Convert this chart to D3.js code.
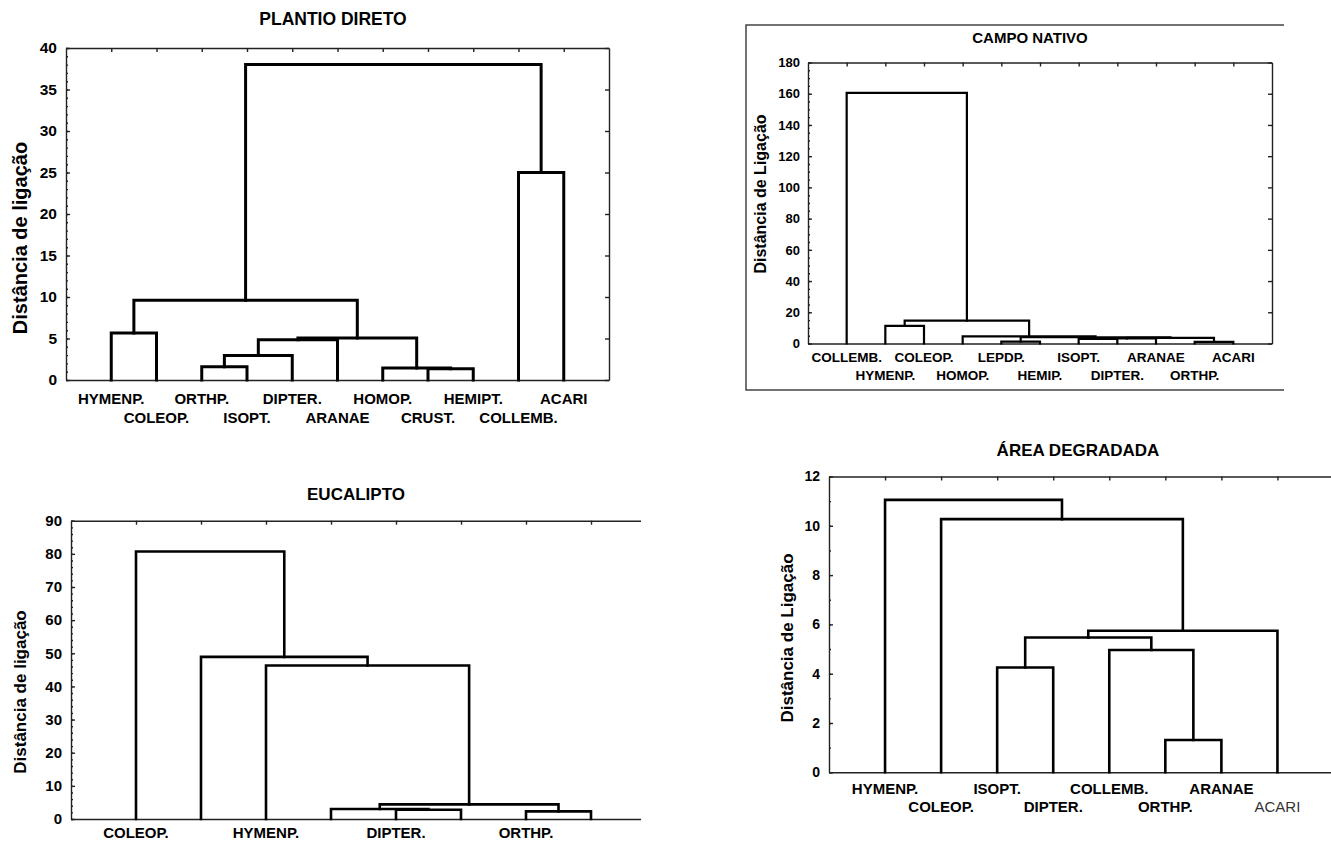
<!DOCTYPE html>
<html>
<head>
<meta charset="utf-8">
<script src="https://cdn.jsdelivr.net/npm/d3@7"></script>
<style>
body { margin: 0; background: #fff; }
text { font-family: "Liberation Sans", Arial, sans-serif; font-weight: bold; fill: #000; }
</style>
</head>
<body>
<div id="chart"></div>
<script>
// Each tree: leaf labels in drawing order, and merges [a, b, distance].
// An index below the leaf count is a leaf, leafCount + k is merge k.

// PLANTIO DIRETO
var plantioLeaves = ["HYMENP.", "COLEOP.", "ORTHP.", "ISOPT.", "DIPTER.", "ARANAE",
                     "HOMOP.", "CRUST.", "HEMIPT.", "COLLEMB.", "ACARI"];
var plantioMerges = [[2, 3, 1.6], [7, 8, 1.35], [6, 12, 1.45], [11, 4, 2.95], [14, 5, 4.85],
                     [15, 13, 5.05], [0, 1, 5.65], [17, 16, 9.6], [9, 10, 25], [18, 19, 38]];
var plantioTicks = [0, 5, 10, 15, 20, 25, 30, 35, 40];

// CAMPO NATIVO
var campoLeaves = ["COLLEMB.", "HYMENP.", "COLEOP.", "HOMOP.", "LEPDP.", "HEMIP.",
                   "ISOPT.", "DIPTER.", "ARANAE", "ORTHP.", "ACARI"];
var campoMerges = [[4, 5, 1.2], [9, 10, 1.0], [6, 7, 3.0], [13, 8, 3.2], [14, 12, 3.6],
                   [11, 15, 4.0], [3, 16, 4.6], [1, 2, 11.3], [18, 17, 14.7], [0, 19, 160.5]];
var campoTicks = [0, 20, 40, 60, 80, 100, 120, 140, 160, 180];

// EUCALIPTO (only every other leaf is labelled in the original)
var eucaliptoLeaves = ["COLEOP.", "", "HYMENP.", "", "DIPTER.", "", "ORTHP.", ""];
var eucaliptoMerges = [[4, 5, 2.8], [3, 8, 3.0], [6, 7, 2.3], [9, 10, 4.4],
                       [2, 11, 46.3], [1, 12, 48.9], [0, 13, 80.7]];
var eucaliptoTicks = [0, 10, 20, 30, 40, 50, 60, 70, 80, 90];

// ÁREA DEGRADADA
var areaLeaves = ["HYMENP.", "COLEOP.", "ISOPT.", "DIPTER.", "COLLEMB.", "ORTHP.", "ARANAE", "ACARI"];
var areaMerges = [[5, 6, 1.31], [2, 3, 4.25], [4, 8, 4.96], [9, 10, 5.47],
                  [11, 7, 5.74], [1, 12, 10.27], [0, 13, 11.05]];
var areaTicks = [0, 2, 4, 6, 8, 10, 12];

var svg = d3.select("#chart").append("svg")
    .attr("width", 1331)
    .attr("height", 844);

// Campo nativo sits in an open frame (cut on the right).
svg.append("path")
    .attr("d", "M1284,25 H746 V390 H1284")
    .attr("fill", "none")
    .attr("stroke", "#444")
    .attr("stroke-width", 1.5);

function styleAxis(g) {
    g.attr("color", "#222");
    g.selectAll("path, line").attr("stroke-width", 1.4);
}

function dendrogram(c, id) {
    var n = c.leaves.length;
    var g = svg.append("g");
    if (c.clip) {
        svg.append("clipPath").attr("id", id)
          .append("rect").attr("x", 0).attr("y", 0).attr("width", c.clip).attr("height", 844);
        g.attr("clip-path", "url(#" + id + ")");
    }
    var x = d3.scaleLinear().domain([-1, n]).range([c.left, c.right]);
    var y = d3.scaleLinear().domain([0, c.max]).range([c.bottom, c.top]);

    // minor ticks on the left axis
    g.append("g")
        .attr("transform", "translate(" + c.left + ",0)")
        .call(d3.axisLeft(y).tickValues(d3.range(0, c.max + 1e-9, c.minor))
            .tickSize(-2).tickFormat(""))
        .call(styleAxis)
        .select(".domain").remove();

    var left = g.append("g")
        .attr("transform", "translate(" + c.left + ",0)")
        .call(d3.axisLeft(y).tickValues(c.ticks).tickSizeInner(-4).tickSizeOuter(0).tickPadding(c.pad))
        .call(styleAxis);
    left.selectAll("text").style("font-size", c.tickFont + "px");

    if (!c.clip) {
        g.append("g")
            .attr("transform", "translate(" + c.right + ",0)")
            .call(d3.axisRight(y).tickValues(c.ticks).tickSizeInner(-4).tickSizeOuter(0).tickFormat(""))
            .call(styleAxis);
    }

    g.append("g")
        .attr("transform", "translate(0," + c.top + ")")
        .call(d3.axisTop(x).tickValues(d3.range(n)).tickSizeInner(-4).tickSizeOuter(0).tickFormat(""))
        .call(styleAxis);

    g.append("g")
        .attr("transform", "translate(0," + c.bottom + ")")
        .call(d3.axisBottom(x).tickValues([]).tickSizeOuter(0))
        .call(styleAxis);

    // build the tree: position and height of every node
    var pos = d3.range(n), hgt = d3.range(n).map(function() { return 0; });
    var links = [];
    c.merges.forEach(function(m) {
        var a = m[0], b = m[1], h = m[2];
        links.push({xa: pos[a], ha: hgt[a], xb: pos[b], hb: hgt[b], h: h});
        pos.push((pos[a] + pos[b]) / 2);
        hgt.push(h);
    });

    g.append("g").selectAll("path")
        .data(links)
        .join("path")
        .attr("d", function(d) {
            return "M" + x(d.xa) + "," + y(d.ha) + "V" + y(d.h) + "H" + x(d.xb) + "V" + y(d.hb);
        })
        .attr("fill", "none")
        .attr("stroke", "#000")
        .attr("stroke-width", c.lineW)
        .attr("stroke-linejoin", "miter")
        .attr("stroke-linecap", "square");

    // leaf labels, staggered on two rows when needed
    g.append("g").selectAll("text")
        .data(c.leaves.map(function(l, i) { return {label: l, i: i}; }).filter(function(d) { return d.label; }))
        .join("text")
        .attr("x", function(d) { return x(d.i); })
        .attr("y", function(d) { return c.rows[d.i % c.rows.length]; })
        .attr("text-anchor", "middle")
        .style("font-size", c.labelFont + "px")
        .style("font-weight", function(d) { return c.plain && c.plain.indexOf(d.label) >= 0 ? "normal" : null; })
        .style("fill", function(d) { return c.plain && c.plain.indexOf(d.label) >= 0 ? "#333" : null; })
        .text(function(d) { return d.label; });

    g.append("text")
        .attr("x", c.titleX)
        .attr("y", c.titleY)
        .attr("text-anchor", "middle")
        .style("font-size", c.titleFont + "px")
        .text(c.title);

    g.append("text")
        .attr("transform", "translate(" + c.yTitleX + "," + c.yTitleY + ") rotate(-90)")
        .attr("text-anchor", "middle")
        .attr("dominant-baseline", "central")
        .style("font-size", c.yTitleFont + "px")
        .text(c.yTitle);
}

dendrogram({
    leaves: plantioLeaves, merges: plantioMerges, ticks: plantioTicks, max: 40, minor: 1,
    left: 66, right: 609, top: 48, bottom: 380, pad: 9, tickFont: 15.5, lineW: 3,
    rows: [404, 423], labelFont: 15,
    title: "PLANTIO DIRETO", titleX: 333, titleY: 25, titleFont: 17.5,
    yTitle: "Distância de ligação", yTitleX: 20, yTitleY: 238, yTitleFont: 20
}, "c1");

dendrogram({
    leaves: campoLeaves, merges: campoMerges, ticks: campoTicks, max: 180, minor: 5,
    left: 808, right: 1272, top: 62.5, bottom: 343.5, pad: 8, tickFont: 13, lineW: 2.2,
    rows: [362, 380], labelFont: 13.5,
    title: "CAMPO NATIVO", titleX: 1030, titleY: 43, titleFont: 15,
    yTitle: "Distância de Ligação", yTitleX: 760, yTitleY: 194, yTitleFont: 16
}, "c2");

dendrogram({
    leaves: eucaliptoLeaves, merges: eucaliptoMerges, ticks: eucaliptoTicks, max: 90, minor: 2,
    left: 71, right: 656, top: 520.7, bottom: 819, pad: 9, tickFont: 15, lineW: 2.6,
    rows: [838], labelFont: 15, clip: 641,
    title: "EUCALIPTO", titleX: 356, titleY: 500, titleFont: 17,
    yTitle: "Distância de ligação", yTitleX: 20, yTitleY: 692, yTitleFont: 17
}, "c3");

dendrogram({
    leaves: areaLeaves, merges: areaMerges, ticks: areaTicks, max: 12, minor: 1,
    left: 829, right: 1333.5, top: 476.5, bottom: 772.3, pad: 9, tickFont: 14, lineW: 2.6,
    rows: [793.5, 812], labelFont: 15, plain: ["ACARI"], clip: 1331,
    title: "ÁREA DEGRADADA", titleX: 1078, titleY: 456, titleFont: 17,
    yTitle: "Distância de Ligação", yTitleX: 787, yTitleY: 638, yTitleFont: 17
}, "c4");
</script>
</body>
</html>
